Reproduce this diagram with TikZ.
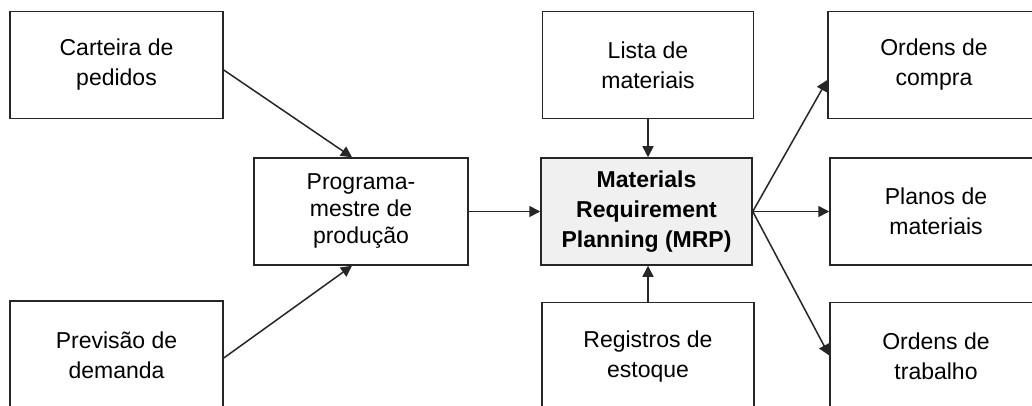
\documentclass[tikz,border=0pt]{standalone}
\usepackage{fontspec}
\setmainfont{Liberation Sans}
\usetikzlibrary{arrows.meta,calc}
\definecolor{mrpgray}{RGB}{240,240,240}
\begin{document}
\begin{tikzpicture}[x=1pt,y=-1pt,
  box/.style={draw=black!85,line width=1.5pt,fill=white,align=center,inner sep=0pt,
    minimum width=212pt,minimum height=107pt,font=\fontsize{23}{30}\selectfont},
  conn/.style={line width=1.5pt,draw=black!85,-{Triangle[length=11pt,width=11pt]}}]
\useasboundingbox (0,0) rectangle (1032,406);
\clip (0,0) rectangle (1032,406);
\fill[white] (0,0) rectangle (1032,406);
\node[box,minimum width=213pt] (cart) at (116.5,65) {Carteira de\\pedidos};
\node[box,minimum width=213pt,minimum height=108pt] (prev) at (116.5,355) {Previsão de\\demanda};
\node[box,minimum width=214pt,font=\fontsize{23}{27}\selectfont] (prog) at (361,211.5) {Programa-\\mestre de\\produção};
\node[box,fill=mrpgray,minimum width=211pt,font=\fontsize{23}{30}\selectfont\bfseries] (mrp) at (646.5,211.5) {Materials\\Requirement\\Planning (MRP)};
\node[box,minimum width=211pt] (lista) at (648,65) {Lista de\\materiais};
\node[box,minimum height=108pt] (reg) at (648,356.5) {Registros de\\estoque};
\node[box] (oc) at (934,65) {Ordens de\\compra};
\node[box] (pm) at (936,211.5) {Planos de\\materiais};
\node[box,minimum height=108pt] (ot) at (936,356.5) {Ordens de\\trabalho};
\draw[conn] ([yshift=-5pt]cart.east) -- ([xshift=-9pt]prog.north);
\draw[conn] ([yshift=-3pt]prev.east) -- ([xshift=-9pt]prog.south);
\draw[conn] (prog.east) -- (prog.east -| mrp.west);
\draw[conn] (lista.south) -- (lista.south |- mrp.north);
\draw[conn] (reg.north) -- (reg.north |- mrp.south);
\draw[conn] (mrp.east) -- ([yshift=-15pt]oc.west);
\draw[conn] (mrp.east) -- (mrp.east -| pm.west);
\draw[conn] (mrp.east) -- ([yshift=1pt]ot.west);
\end{tikzpicture}
\end{document}
